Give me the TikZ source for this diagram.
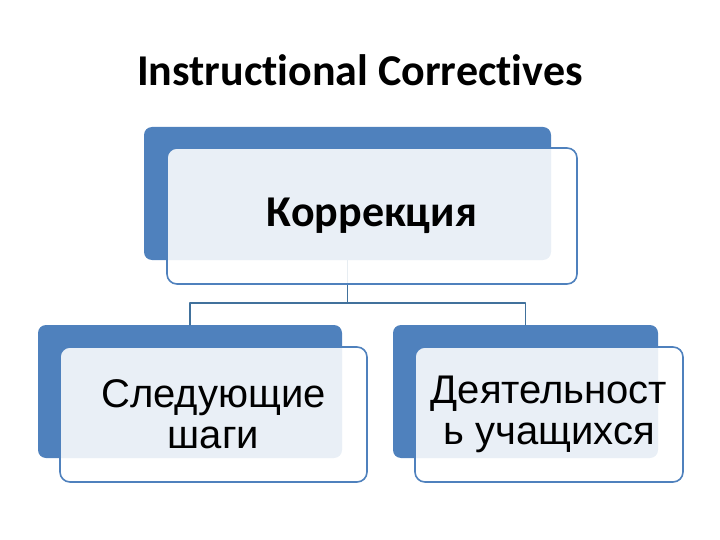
\documentclass[tikz,border=0pt]{standalone}
\usepackage{fontspec}
\setmainfont{Carlito}[Ligatures=NoCommon]
\newfontfamily\arialfont{Liberation Sans}
\definecolor{accent}{HTML}{4F81BD}
\definecolor{linkcol}{HTML}{41719C}
\tikzset{
  back/.style={fill=accent, rounded corners=8pt, inner sep=0pt},
  front/.style={draw=accent, line width=1.6pt, fill=white, fill opacity=0.88,
    text opacity=1, rounded corners=10pt, inner sep=0pt, align=center},
  link/.style={draw=linkcol, line width=1.4pt}
}
\begin{document}
\begin{tikzpicture}[x=1pt, y=-1pt, line join=round, line cap=round]
			\useasboundingbox (0,0) rectangle (720,540);
			\node[font=\fontsize{44}{50}\selectfont\bfseries] (T) at (360,70) {Instructional Correctives};
			% back plates
			\foreach \n/\x/\y/\w/\h in {A/347.5/193.5/407/133, B/190/391.5/304/133, C/525.5/391.5/265/133}
			\node[back, minimum width=\w, minimum height=\h] (\n) at (\x,\y) {};
			\path (347.5,303) coordinate (S);
			\draw[link] (A.south) -- (S);
			\draw[link] (B.north) |- (S) -| (C.north);
			% front boxes
			\node[front, minimum width=410, minimum height=136, font=\fontsize{44}{50}\selectfont\bfseries] (A1) at (372,216) {Коррекция};
			\node[front, minimum width=307, minimum height=135, font=\arialfont\fontsize{40}{41}\selectfont] (B1) at (213.5,414.5) {Следующие\\шаги};
			\node[front, minimum width=268, minimum height=135, font=\arialfont\fontsize{40}{41}\selectfont] (C1) at (549,414.5) {Деятельност\\ь учащихся};
\end{tikzpicture}
\end{document}
